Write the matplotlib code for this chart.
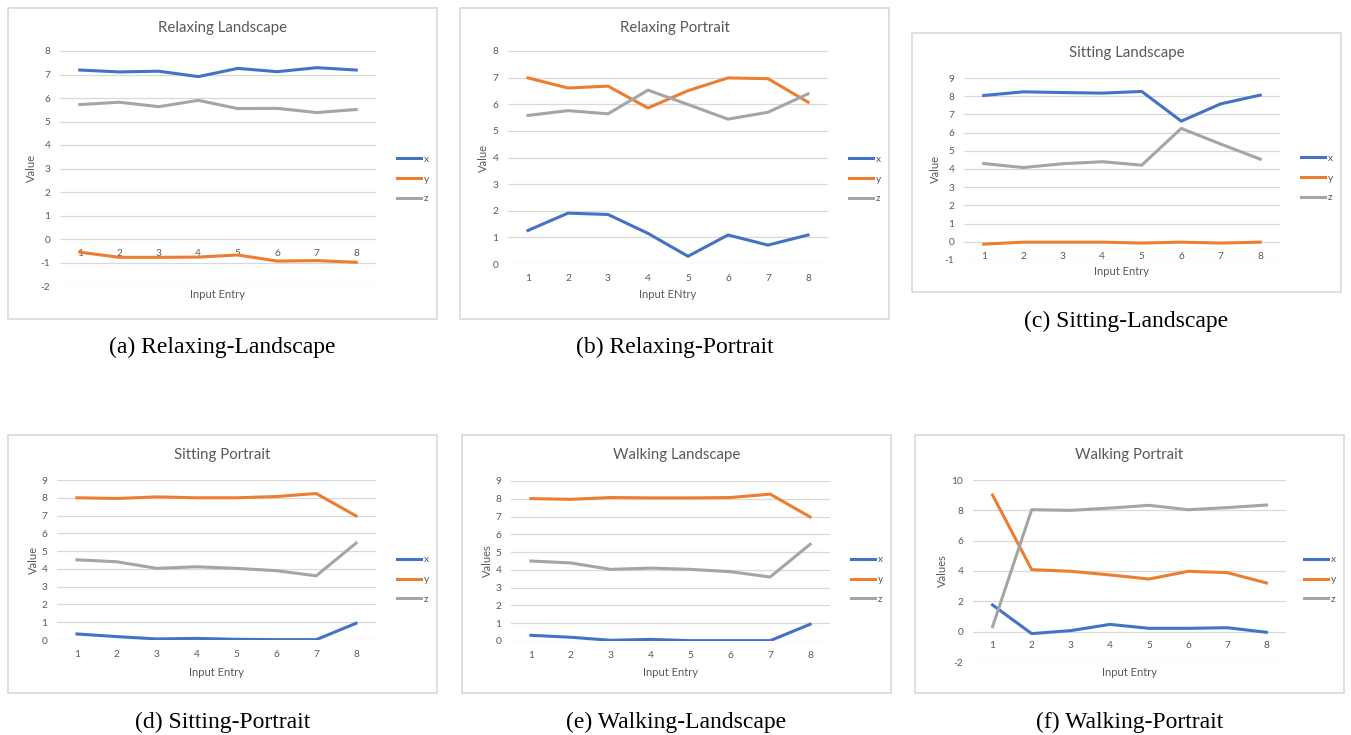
import matplotlib
matplotlib.use('Agg')
import matplotlib.pyplot as plt
from matplotlib.patches import Rectangle

# --- Data ---
entries = [1, 2, 3, 4, 5, 6, 7, 8]

relax_land_x = [7.19, 7.11, 7.14, 6.91, 7.26, 7.12, 7.29, 7.19]
relax_land_y = [-0.56, -0.78, -0.78, -0.77, -0.68, -0.94, -0.92, -0.99]
relax_land_z = [5.72, 5.82, 5.63, 5.90, 5.55, 5.56, 5.38, 5.51]

relax_port_x = [1.26, 1.91, 1.86, 1.15, 0.29, 1.09, 0.71, 1.09]
relax_port_y = [6.99, 6.61, 6.68, 5.86, 6.51, 6.99, 6.96, 6.08]
relax_port_z = [5.58, 5.76, 5.64, 6.53, 5.99, 5.44, 5.70, 6.39]

sit_land_x = [8.04, 8.24, 8.20, 8.17, 8.26, 6.63, 7.58, 8.06]
sit_land_y = [-0.13, -0.02, -0.02, -0.02, -0.07, -0.02, -0.07, -0.02]
sit_land_z = [4.30, 4.08, 4.29, 4.40, 4.21, 6.23, 5.37, 4.54]

sit_port_x = [0.34, 0.19, 0.06, 0.09, 0.04, 0.02, 0.02, 0.94]
sit_port_y = [8.00, 7.96, 8.05, 8.00, 8.00, 8.07, 8.24, 6.98]
sit_port_z = [4.51, 4.40, 4.03, 4.12, 4.03, 3.90, 3.61, 5.45]

walk_land_x = [0.32, 0.21, 0.04, 0.09, 0.02, 0.02, 0.02, 0.94]
walk_land_y = [8.01, 7.97, 8.07, 8.05, 8.05, 8.07, 8.26, 6.98]
walk_land_z = [4.50, 4.39, 4.03, 4.10, 4.03, 3.90, 3.60, 5.44]

walk_port_x = [1.76, -0.13, 0.07, 0.48, 0.22, 0.22, 0.26, -0.04]
walk_port_y = [9.01, 4.09, 3.98, 3.74, 3.47, 3.98, 3.89, 3.21]
walk_port_z = [0.33, 8.04, 8.00, 8.15, 8.33, 8.04, 8.18, 8.35]

# Excel palette
BLUE = '#4472C4'
ORANGE = '#ED7D31'
GRAY = '#A5A5A5'
TXT = '#595959'
GRID = '#D9D9D9'

W, H = 1351, 735
plt.rcParams['font.family'] = ['Lato', 'DejaVu Sans']
plt.rcParams['axes.unicode_minus'] = False
fig = plt.figure(figsize=(W / 100, H / 100), dpi=100)


def fx(px):
    return px / W


def fy(py):
    return 1 - py / H


# each panel: (title, caption, ylabel, xlabel, x, y, z, yticks,
#              border box (l, t, r, b), plot area (l, t, r, b),
#              ylabel x, xlabel y, caption y)  -- all in pixels
panels = [
    ('Relaxing Landscape', '(a) Relaxing-Landscape', 'Value', 'Input Entry',
     relax_land_x, relax_land_y, relax_land_z, list(range(-2, 9)),
     (8, 8, 437, 319), (60, 51, 376, 286), 31, 295, 347),
    ('Relaxing Portrait', '(b) Relaxing-Portrait', 'Value', 'Input ENtry',
     relax_port_x, relax_port_y, relax_port_z, list(range(0, 9)),
     (460, 8, 889, 319), (508, 51, 828, 264), 483, 295, 347),
    ('Sitting Landscape', '(c) Sitting-Landscape', 'Value', 'Input Entry',
     sit_land_x, sit_land_y, sit_land_z, list(range(-1, 10)),
     (912, 33, 1341, 292), (964, 78, 1280, 260), 935, 271, 321),
    ('Sitting Portrait', '(d) Sitting-Portrait', 'Value', 'Input Entry',
     sit_port_x, sit_port_y, sit_port_z, list(range(0, 10)),
     (8, 435, 437, 693), (57, 480, 376, 640), 33, 672, 722),
    ('Walking Landscape', '(e) Walking-Landscape', 'Values', 'Input Entry',
     walk_land_x, walk_land_y, walk_land_z, list(range(0, 10)),
     (462, 435, 891, 693), (511, 481, 830, 641), 487, 672, 722),
    ('Walking Portrait', '(f) Walking-Portrait', 'Values', 'Input Entry',
     walk_port_x, walk_port_y, walk_port_z, list(range(-2, 11, 2)),
     (915, 435, 1344, 693), (973, 480, 1286, 662), 942, 672, 722),
]

for (title, caption, ylab, xlab, xs, ys, zs, yticks,
     box, area, ylab_x, xlab_y, cap_y) in panels:
    bl, bt, br, bb = box
    fig.patches.append(Rectangle((fx(bl), fy(bb)), fx(br - bl), (bb - bt) / H,
                                 transform=fig.transFigure, facecolor='white',
                                 edgecolor=GRID, linewidth=1.2, zorder=-5))

    al, at, ar, ab = area
    ax = fig.add_axes([fx(al), fy(ab), fx(ar - al), (ab - at) / H])
    ax.set_facecolor('none')
    ax.plot(entries, xs, color=BLUE, lw=2.2, label='x', solid_joinstyle='round')
    ax.plot(entries, ys, color=ORANGE, lw=2.2, label='y', solid_joinstyle='round')
    ax.plot(entries, zs, color=GRAY, lw=2.2, label='z', solid_joinstyle='round')

    ax.set_xlim(0.5, 8.5)
    ax.set_ylim(yticks[0], yticks[-1])
    ax.set_yticks(yticks)
    ax.set_xticks(entries)
    ax.grid(axis='y', color=GRID, lw=0.9)
    ax.set_axisbelow(True)
    for s in ax.spines.values():
        s.set_visible(False)
    # category labels sit just under the zero line, like Excel
    ax.spines['bottom'].set_position(('data', 0))
    ax.tick_params(length=0, labelsize=7.3, colors=TXT, pad=7)

    fig.text(fx((bl + br) / 2), fy(bt + 20), title, ha='center', va='center',
             fontsize=10.8, color=TXT)
    ax.set_ylabel(ylab, fontsize=8, color=TXT, va='center')
    ax.yaxis.set_label_coords(fx(ylab_x), fy((at + ab) / 2), transform=fig.transFigure)
    ax.set_xlabel(xlab, fontsize=8, color=TXT, va='center')
    ax.xaxis.set_label_coords(fx((al + ar) / 2), fy(xlab_y), transform=fig.transFigure)

    ax.legend(loc='center left', bbox_to_anchor=(fx(bl + 380), fy((bt + bb) / 2 + 15.5)),
              bbox_transform=fig.transFigure, frameon=False, fontsize=7.3,
              handlelength=2.4, handletextpad=0.2, labelspacing=1.05,
              labelcolor=TXT)

    fig.text(fx((bl + br) / 2), fy(cap_y), caption, ha='center', va='center',
             fontsize=17, family=['Liberation Serif', 'DejaVu Serif'], color='black')

fig.savefig('out.png', dpi=100)
